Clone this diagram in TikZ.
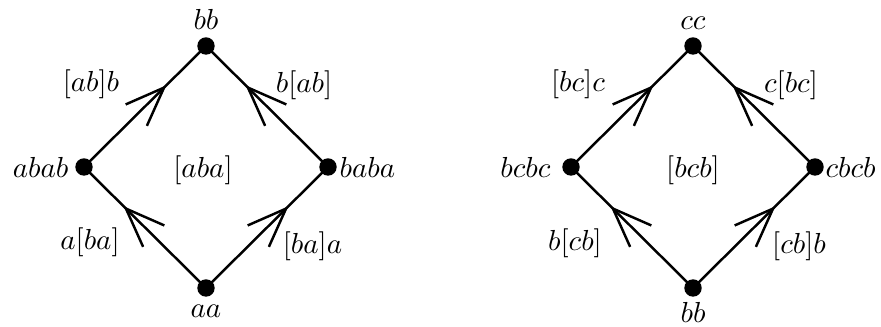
\documentclass[tikz,border=0pt]{standalone}
\usetikzlibrary{decorations.markings}
\tikzset{
  dot/.style={circle,fill=black,inner sep=0pt,minimum size=6pt},
  lbl/.style={inner sep=0pt},
  edge/.style={line width=0.85pt, postaction={decorate},
    decoration={markings, mark=at position 0.657 with {\draw[line width=0.85pt] (-13.5pt,5.2pt) -- (0pt,0pt) -- (-13.5pt,-5.2pt);}}},
}
\begin{document}
\begin{tikzpicture}[x=0.345pt,y=-0.345pt]
\useasboundingbox (0,0) rectangle (881,327);
% left diamond
\node[dot] (aa) at (206,288) {};
\node[dot] (bbL) at (206,46) {};
\node[dot] (abab) at (84,167) {};
\node[dot] (baba) at (328,167) {};
\draw[edge] (aa.center) -- (abab.center);
\draw[edge] (abab.center) -- (bbL.center);
\draw[edge] (aa.center) -- (baba.center);
\draw[edge] (baba.center) -- (bbL.center);
\node[lbl,anchor=south] (tbbL) at (206,30) {$bb$};
\node[lbl,anchor=north] (taa) at (206,304) {$aa$};
\node[lbl,anchor=east] (tabab) at (69,167) {$abab$};
\node[lbl,anchor=west] (tbaba) at (339,167) {$baba$};
\node[lbl] (faceL) at (203,170) {$[aba]$};
\node[lbl] (e1) at (91,84) {$[ab]b$};
\node[lbl] (e2) at (304,85.5) {$b[ab]$};
\node[lbl] (e3) at (90,242) {$a[ba]$};
\node[lbl] (e4) at (312.5,246) {$[ba]a$};
% right diamond
\node[dot] (bbR) at (693,288) {};
\node[dot] (cc) at (693,46) {};
\node[dot] (bcbc) at (571,167) {};
\node[dot] (cbcb) at (815,167) {};
\draw[edge] (bbR.center) -- (bcbc.center);
\draw[edge] (bcbc.center) -- (cc.center);
\draw[edge] (bbR.center) -- (cbcb.center);
\draw[edge] (cbcb.center) -- (cc.center);
\node[lbl,anchor=south] (tcc) at (693,30) {$cc$};
\node[lbl,anchor=north] (tbbR) at (693,302) {$bb$};
\node[lbl,anchor=east] (tbcbc) at (551,167) {$bcbc$};
\node[lbl,anchor=west] (tcbcb) at (825,167) {$cbcb$};
\node[lbl] (faceR) at (693,170) {$[bcb]$};
\node[lbl] (f1) at (578,84) {$[bc]c$};
\node[lbl] (f2) at (791,85.5) {$c[bc]$};
\node[lbl] (f3) at (575,243) {$b[cb]$};
\node[lbl] (f4) at (799,246) {$[cb]b$};
\end{tikzpicture}
\end{document}
